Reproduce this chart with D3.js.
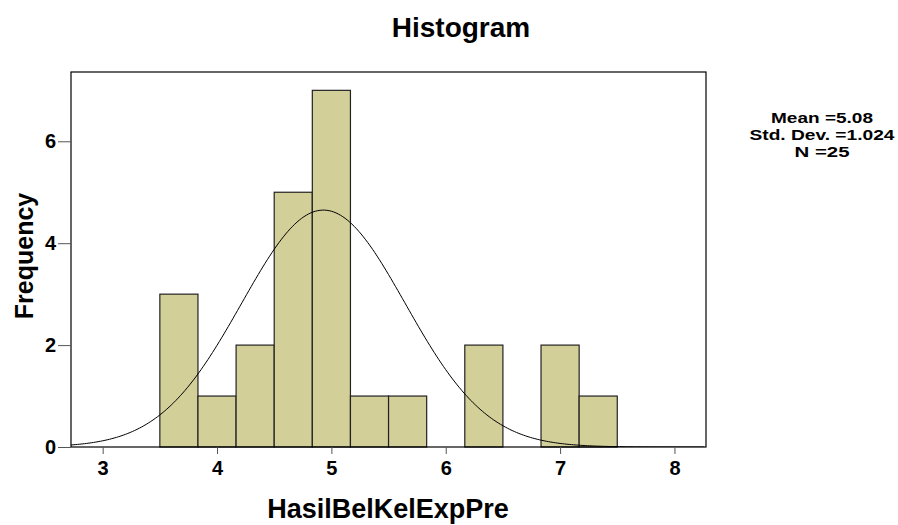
<!DOCTYPE html>
<html>
<head>
<meta charset="utf-8">
<script src="https://cdn.jsdelivr.net/npm/d3@7"></script>
<style>
  body { margin: 0; background: #fff; }
  text { font-family: "Liberation Sans", Arial, sans-serif; font-weight: bold; fill: #000; }
</style>
</head>
<body>
<div id="chart"></div>
<script>
// bins of width 1/3 starting at 3.5
const binEdges = [3.5, 3.8333, 4.1667, 4.5, 4.8333, 5.1667, 5.5, 5.8333, 6.1667, 6.5, 6.8333, 7.1667, 7.5];
const frequencies = [3, 1, 2, 5, 7, 1, 1, 0, 2, 0, 2, 1];
const xTicks = [3, 4, 5, 6, 7, 8];
const yTicks = [0, 2, 4, 6];
const statLines = ['Mean =5.08', 'Std. Dev. =1.024', 'N =25'];
const statWidths = [102, 145, 55];
// fitted normal curve as drawn in the picture
const curveMean = 4.93;
const curveSd = 0.715;
const curveN = 25;
const binWidth = 1 / 3;

const width = 898, height = 525;
const plot = { left: 71, right: 706, top: 72, bottom: 447 };

const svg = d3.select('#chart').append('svg')
    .attr('width', width)
    .attr('height', height);

const x = d3.scaleLinear().domain([2.723, 8.276]).range([plot.left, plot.right]);
const y = d3.scaleLinear().domain([0, 7.36]).range([plot.bottom, plot.top]);

svg.append('defs').append('clipPath').attr('id', 'clip')
    .append('rect')
    .attr('x', plot.left).attr('y', plot.top)
    .attr('width', plot.right - plot.left).attr('height', plot.bottom - plot.top);

// bars
const bins = frequencies.map((f, i) => ({ x0: binEdges[i], x1: binEdges[i + 1], f }))
    .filter(d => d.f > 0);
svg.append('g').selectAll('rect')
    .data(bins)
    .enter()
    .append('rect')
    .attr('x', d => x(d.x0))
    .attr('y', d => y(d.f))
    .attr('width', d => x(d.x1) - x(d.x0))
    .attr('height', d => y(0) - y(d.f))
    .attr('fill', '#d3cf99')
    .attr('stroke', '#222')
    .attr('stroke-width', 1.2);

// normal curve
const curvePts = d3.range(2.72, 8.28, 0.02).map(v => [v,
    curveN * binWidth / (curveSd * Math.sqrt(2 * Math.PI)) *
    Math.exp(-((v - curveMean) ** 2) / (2 * curveSd * curveSd))]);
svg.append('path')
    .datum(curvePts)
    .attr('clip-path', 'url(#clip)')
    .attr('fill', 'none')
    .attr('stroke', '#000')
    .attr('stroke-width', 1)
    .attr('d', d3.line().x(d => x(d[0])).y(d => y(d[1])));

// frame
svg.append('rect')
    .attr('x', plot.left).attr('y', plot.top)
    .attr('width', plot.right - plot.left).attr('height', plot.bottom - plot.top)
    .attr('fill', 'none')
    .attr('stroke', '#000')
    .attr('stroke-width', 1.2);

// axes
const xAxis = svg.append('g')
    .attr('transform', `translate(0, ${plot.bottom})`)
    .call(d3.axisBottom(x).tickValues(xTicks).tickSize(7).tickPadding(7).tickFormat(d3.format('d')));
xAxis.select('.domain').remove();
xAxis.selectAll('line').attr('stroke', '#555');
xAxis.selectAll('text').style('font-size', '20px').attr('font-family', null);

const yAxis = svg.append('g')
    .attr('transform', `translate(${plot.left}, 0)`)
    .call(d3.axisLeft(y).tickValues(yTicks).tickSize(13).tickPadding(2).tickFormat(d3.format('d')));
yAxis.select('.domain').remove();
yAxis.selectAll('line').attr('stroke', '#555');
yAxis.selectAll('text').style('font-size', '20px').attr('font-family', null);

// titles
svg.append('text')
    .attr('x', 461).attr('y', 37)
    .attr('text-anchor', 'middle')
    .style('font-size', '28px')
    .text('Histogram');

svg.append('text')
    .attr('x', 388).attr('y', 518)
    .attr('text-anchor', 'middle')
    .style('font-size', '27px')
    .text('HasilBelKelExpPre');

svg.append('text')
    .attr('transform', 'translate(33, 256) rotate(-90)')
    .attr('text-anchor', 'middle')
    .style('font-size', '25px')
    .text('Frequency');

// stats box
svg.append('g').selectAll('text')
    .data(statLines)
    .enter()
    .append('text')
    .attr('x', 822)
    .attr('y', (d, i) => 123 + i * 17)
    .attr('text-anchor', 'middle')
    .attr('textLength', (d, i) => statWidths[i])
    .attr('lengthAdjust', 'spacingAndGlyphs')
    .style('font-size', '15px')
    .text(d => d);
</script>
</body>
</html>
